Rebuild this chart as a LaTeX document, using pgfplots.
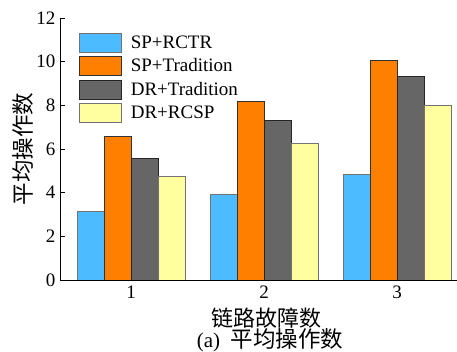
\documentclass[border=0pt]{standalone}
\usepackage{fontspec}
\setmainfont{Liberation Serif}
\newfontfamily\cjk{Noto Sans CJK SC}
\usepackage{pgfplots}
\pgfplotsset{compat=1.18}
\definecolor{cblue}{RGB}{77,187,255}
\definecolor{corange}{RGB}{255,128,0}
\definecolor{cgray}{RGB}{102,102,102}
\definecolor{cyellow}{RGB}{255,255,160}
\begin{document}
\begin{tikzpicture}
\begin{axis}[
  name=ax,
  scale only axis,
  width=397pt, height=262pt,
  at={(0pt,0pt)}, anchor=south west,
  ybar=0pt, bar width=27pt,
  xmin=0.466, xmax=3.45,
  ymin=0, ymax=12,
  xtick={1,2,3}, ytick={0,2,4,6,8,10,12},
  axis x line*=bottom, axis y line*=left,
  axis line style={black, line width=0.8pt},
  tick style={black, line width=0.8pt},
  tick align=inside,
  major tick length=5pt,
  /pgf/number format/assume math mode=true,
  tick label style={font=\fontsize{19}{19}\selectfont},
  yticklabel style={xshift=-1pt},
  xticklabel style={yshift=-2pt},
  ylabel={\cjk 平均操作数},
  ylabel style={font=\fontsize{22.5}{22.5}\selectfont, at={(axis description cs:0,0.5)}, anchor=center, yshift=37pt},
  xlabel={\cjk 链路故障数},
  xlabel style={font=\fontsize{22}{22}\selectfont, at={(axis description cs:0.52,0)}, anchor=center, yshift=-38pt},
  legend cell align=left,
  legend style={draw=none, fill=none, inner sep=0pt, at={(axis description cs:0,1)}, anchor=north west, xshift=19pt, yshift=-14.5pt, font=\fontsize{19}{19}\selectfont, row sep=4pt,
    /tikz/every odd column/.append style={column sep=7pt}},
  legend image code/.code={\draw[#1] (0pt,-9.5pt) rectangle (42pt,9.5pt);},
]
\addplot[draw=black!55, fill=cblue, line width=0.6pt] coordinates {(1,3.13) (2,3.93) (3,4.82)};
\addplot[draw=black!80, fill=corange, line width=0.6pt] coordinates {(1,6.56) (2,8.19) (3,10.06)};
\addplot[draw=black!85, fill=cgray, line width=0.6pt] coordinates {(1,5.57) (2,7.32) (3,9.33)};
\addplot[draw=black!55, fill=cyellow, line width=0.6pt] coordinates {(1,4.73) (2,6.26) (3,7.98)};
\legend{SP+RCTR, SP+Tradition, DR+Tradition, DR+RCSP}
\end{axis}
\node[font=\fontsize{21}{21}\selectfont, anchor=center, inner sep=0pt] at (210pt,-60pt) {(a)\ \ {\cjk\fontsize{22.5}{22.5}\selectfont 平均操作数}};
\pgfresetboundingbox
\path[use as bounding box] (-60pt,-72pt) rectangle (397pt,280pt);
\end{tikzpicture}
\end{document}
